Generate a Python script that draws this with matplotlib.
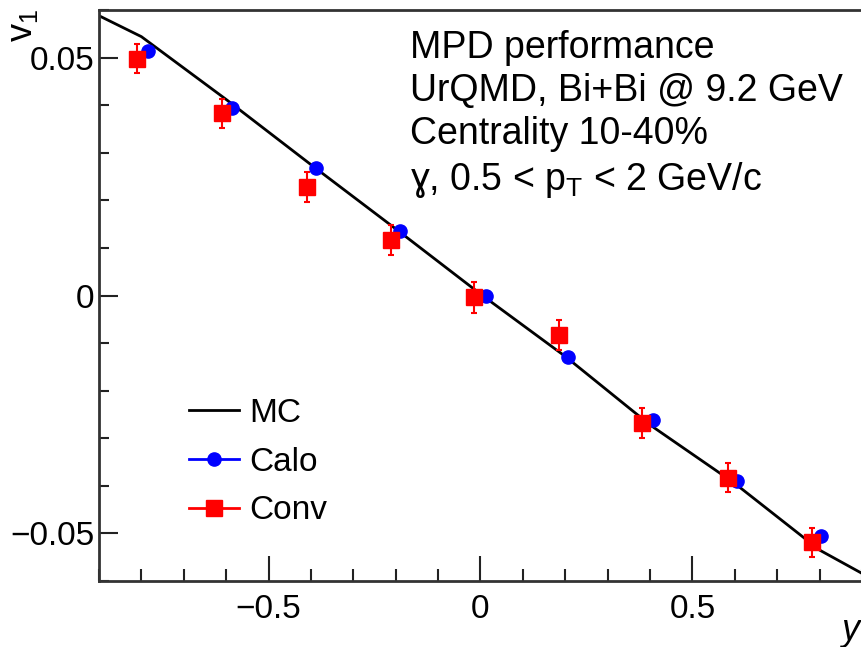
import matplotlib
matplotlib.use("Agg")
import matplotlib.pyplot as plt
from matplotlib.lines import Line2D
from matplotlib.ticker import MultipleLocator

plt.rcParams['font.family'] = ['Liberation Sans', 'DejaVu Sans']
plt.rcParams['mathtext.default'] = 'regular'

# MC curve
mc_x = [-0.9, -0.8, -0.6, -0.4, -0.2, 0.0, 0.2, 0.4, 0.6, 0.8, 0.9]
mc_y = [0.0588, 0.0544, 0.0412, 0.0275, 0.0140, 0.0003, -0.0128, -0.0272, -0.0395, -0.0535, -0.0584]

# Calo (blue circles)
calo_x = [-0.785, -0.587, -0.389, -0.189, 0.012, 0.207, 0.408, 0.606, 0.804]
calo_y = [0.0513, 0.0395, 0.0268, 0.0136, 0.0000, -0.0130, -0.0262, -0.0390, -0.0506]

# Conv (red squares)
conv_x = [-0.811, -0.611, -0.410, -0.212, -0.016, 0.185, 0.381, 0.583, 0.781]
conv_y = [0.0498, 0.0383, 0.0228, 0.0117, -0.0004, -0.0083, -0.0268, -0.0383, -0.0519]
conv_err = [0.0031, 0.0031, 0.0031, 0.0031, 0.0032, 0.0031, 0.0031, 0.0031, 0.0031]

info_lines = ["MPD performance", "UrQMD, Bi+Bi @ 9.2 GeV", "Centrality 10-40%",
              "ɣ, 0.5 < $p_{T}$ < 2 GeV/c"]

fig = plt.figure(figsize=(8.62, 6.47), dpi=100)
ax = fig.add_axes([99/862, 1-581/647, 1-99/862, (581-10)/647])

ax.plot(mc_x, mc_y, color='black', lw=2, zorder=2)
ax.errorbar(calo_x, calo_y, fmt='o', color='#0000ff', ms=9.5, zorder=3)
ax.errorbar(conv_x, conv_y, yerr=conv_err, fmt='s', color='#ff0000', ms=11,
            elinewidth=1.5, capsize=2.5, capthick=1.5, zorder=4)

ax.set_xlim(-0.9, 0.9)
ax.set_ylim(-0.06, 0.06)
ax.set_xticks([-0.5, 0, 0.5])
ax.set_xticklabels(['\u22120.5', '0', '0.5'])
ax.set_yticks([-0.05, 0, 0.05])
ax.set_yticklabels(['\u22120.05', '0', '0.05'])
ax.xaxis.set_minor_locator(MultipleLocator(0.1))
ax.yaxis.set_minor_locator(MultipleLocator(0.01))
ax.tick_params(axis='x', which='major', direction='in', length=18, width=1.5,
               labelsize=24, pad=9, color='#222222')
ax.tick_params(axis='x', which='minor', direction='in', length=9, width=1.5, color='#222222')
ax.tick_params(axis='y', which='major', direction='in', length=14, width=1.5,
               labelsize=24, pad=3.5, color='#222222')
ax.tick_params(axis='y', which='minor', direction='in', length=7, width=1.5, color='#222222')
for s in ['left', 'bottom', 'top']:
    ax.spines[s].set_linewidth(2)
    ax.spines[s].set_color('#333333')
ax.spines['right'].set_visible(False)

handles = [Line2D([], [], color='black', lw=2),
           Line2D([], [], color='#0000ff', lw=2, marker='o', ms=9.5),
           Line2D([], [], color='#ff0000', lw=2, marker='s', ms=11)]
ax.legend(handles, ['MC', 'Calo', 'Conv'], loc='upper left',
          bbox_to_anchor=((159-99)/763, (581-368)/571), frameon=False,
          fontsize=24, handlelength=1.5, handletextpad=0.3, labelspacing=0.53)

fig.text(410/862, 1-30/647, "\n".join(info_lines), fontsize=27, va='top', ha='left',
         linespacing=1.25)

fig.text(23/862, 1-25/647, "$v_{1}$", fontsize=26, rotation=90, ha='center', va='center')
fig.text(850/862, 1-630/647, "y", fontsize=26, style='italic', ha='center', va='center')

fig.savefig("out.png", dpi=100)
